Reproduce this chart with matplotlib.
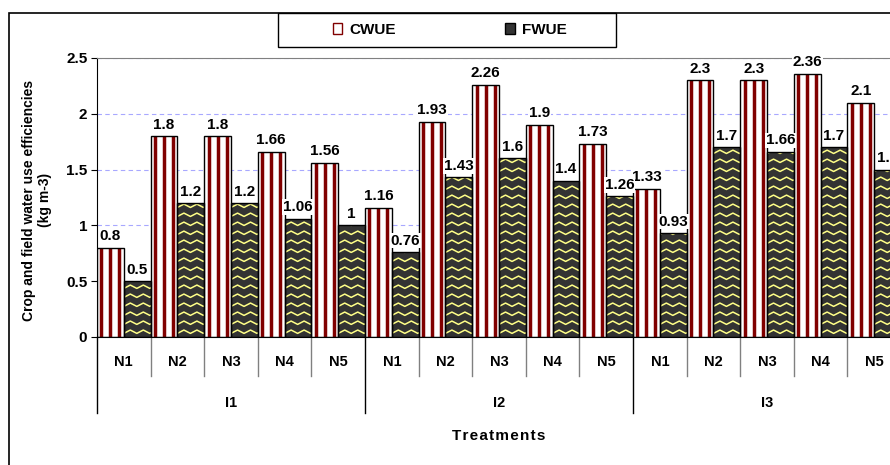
import numpy as np
import matplotlib.pyplot as plt
from matplotlib.patches import Rectangle, Patch
from matplotlib.transforms import blended_transform_factory

plt.rcParams['font.family'] = ['Liberation Sans', 'DejaVu Sans']
plt.rcParams['font.weight'] = 'bold'
plt.rcParams['axes.labelweight'] = 'bold'

# data
groups = ['I1', 'I2', 'I3']
levels = ['N1', 'N2', 'N3', 'N4', 'N5']
cwue = [0.8, 1.8, 1.8, 1.66, 1.56, 1.16, 1.93, 2.26, 1.9, 1.73, 1.33, 2.3, 2.3, 2.36, 2.1]
fwue = [0.5, 1.2, 1.2, 1.06, 1.0, 0.76, 1.43, 1.6, 1.4, 1.26, 0.93, 1.7, 1.66, 1.7, 1.5]
yticks = [0, 0.5, 1, 1.5, 2, 2.5]

fig = plt.figure(figsize=(8.9, 4.65), dpi=100)
ax = fig.add_axes([0.109, 0.2753, 0.9034, 0.6])
n = len(cwue)
x = np.arange(n)
ax.set_xlim(0, n)
ax.set_ylim(0, 2.5)
ax.set_axisbelow(True)

# CWUE: white with dark red vertical stripes
cbars = ax.bar(x + 0.25, cwue, width=0.5, color='white', linewidth=0, zorder=2)
for b in cbars:
    x0, w, h = b.get_x(), b.get_width(), b.get_height()
    lx, ly = [], []
    for f in (1 / 6, 1 / 2, 5 / 6):
        lx += [x0 + w * f, x0 + w * f, np.nan]
        ly += [0, h, np.nan]
    ln, = ax.plot(lx, ly, color='#800000', linewidth=2.5, solid_capstyle='butt', zorder=2.5)
    ln.set_clip_path(b)
ax.bar(x + 0.25, cwue, width=0.5, fill=False, edgecolor='black', linewidth=1, zorder=3)

# FWUE: dark grey with yellow zigzag
fbars = ax.bar(x + 0.75, fwue, width=0.5, color='#333333', linewidth=0, zorder=2)
px, py, amp = 0.2425, 0.0806, 0.03
for b in fbars:
    x0, h = b.get_x(), b.get_height()
    xs = np.arange(x0 - px, x0 + b.get_width() + px, px / 2)
    zz = np.where(np.arange(len(xs)) % 2 == 0, 0.0, amp)
    lx, ly = [], []
    for r in np.arange(py * 0.4, h + py, py):
        lx += list(xs) + [np.nan]
        ly += list(r + zz) + [np.nan]
    ln, = ax.plot(lx, ly, color='#FFFF88', linewidth=1.1, zorder=2.5)
    ln.set_clip_path(b)
ax.bar(x + 0.75, fwue, width=0.5, fill=False, edgecolor='black', linewidth=1, zorder=3)

# value labels
for xi, v in zip(x + 0.25, cwue):
    ax.text(xi, v + 0.04, f'{v:g}', ha='center', va='bottom', fontsize=11,
            bbox=dict(facecolor='white', edgecolor='none', pad=0.5), zorder=5)
for xi, v in zip(x + 0.75, fwue):
    ax.text(xi, v + 0.04, f'{v:g}', ha='center', va='bottom', fontsize=11,
            bbox=dict(facecolor='white', edgecolor='none', pad=0.5), zorder=5)

# axes styling
ax.set_yticks(yticks)
ax.set_yticklabels([f'{t:g}' for t in yticks])
ax.yaxis.grid(True, color='#A8A8FF', linestyle=(0, (4, 3)), linewidth=0.8)
ax.tick_params(axis='y', direction='out', length=4, labelsize=11, pad=3)
for s in ['top', 'right']:
    ax.spines[s].set_color('#808080')
ax.spines['left'].set_color('black')
ax.spines['bottom'].set_color('black')

ax.set_xticks(x + 0.5)
ax.set_xticklabels(levels * len(groups))
ax.tick_params(axis='x', length=0, labelsize=10.5, pad=13)

trans = blended_transform_factory(ax.transData, ax.transAxes)
for i in range(n + 1):
    if i % len(levels) == 0:
        ax.plot([i, i], [0, -0.272], color='black', linewidth=1, transform=trans, clip_on=False)
    else:
        ax.plot([i, i], [0, -0.14], color='#808080', linewidth=1, transform=trans, clip_on=False)
for g, name in enumerate(groups):
    ax.text(g * len(levels) + len(levels) / 2, -0.237, name, transform=trans,
            ha='center', va='center', fontsize=10.5)

ax.set_xlabel('T r e a t m e n t s'.replace(' ', '\u200a'), fontsize=11, va='center')
ax.xaxis.set_label_coords(0.5, -0.355)
ax.set_ylabel('Crop and field water use efficiencies\n(kg m-3)', fontsize=10,
              va='center', ha='center', multialignment='center')
ax.yaxis.set_label_coords(-0.075, 0.49)

# legend box at the top of the chart frame
handles = [Patch(facecolor='white', edgecolor='#800000'),
           Patch(facecolor='#333333', edgecolor='black')]
fig.legend(handles, ['CWUE', 'FWUE'], ncol=2, loc='center',
           bbox_to_anchor=(450 / 890, 1 - 30 / 465), frameon=False,
           columnspacing=7.15, handlelength=0.6, handleheight=0.7,
           handletextpad=0.5, fontsize=11)
fig.add_artist(Rectangle((278 / 890, 1 - 47 / 465), 338 / 890, 34 / 465,
                         transform=fig.transFigure, fill=False, edgecolor='black', linewidth=1))

# outer chart frame (cropped at right and bottom)
fig.add_artist(Rectangle((9 / 890, -0.1), 1.2, 1.1 - 13 / 465,
                         transform=fig.transFigure, fill=False, edgecolor='black', linewidth=1.2))

fig.savefig('out.png', dpi=100)
